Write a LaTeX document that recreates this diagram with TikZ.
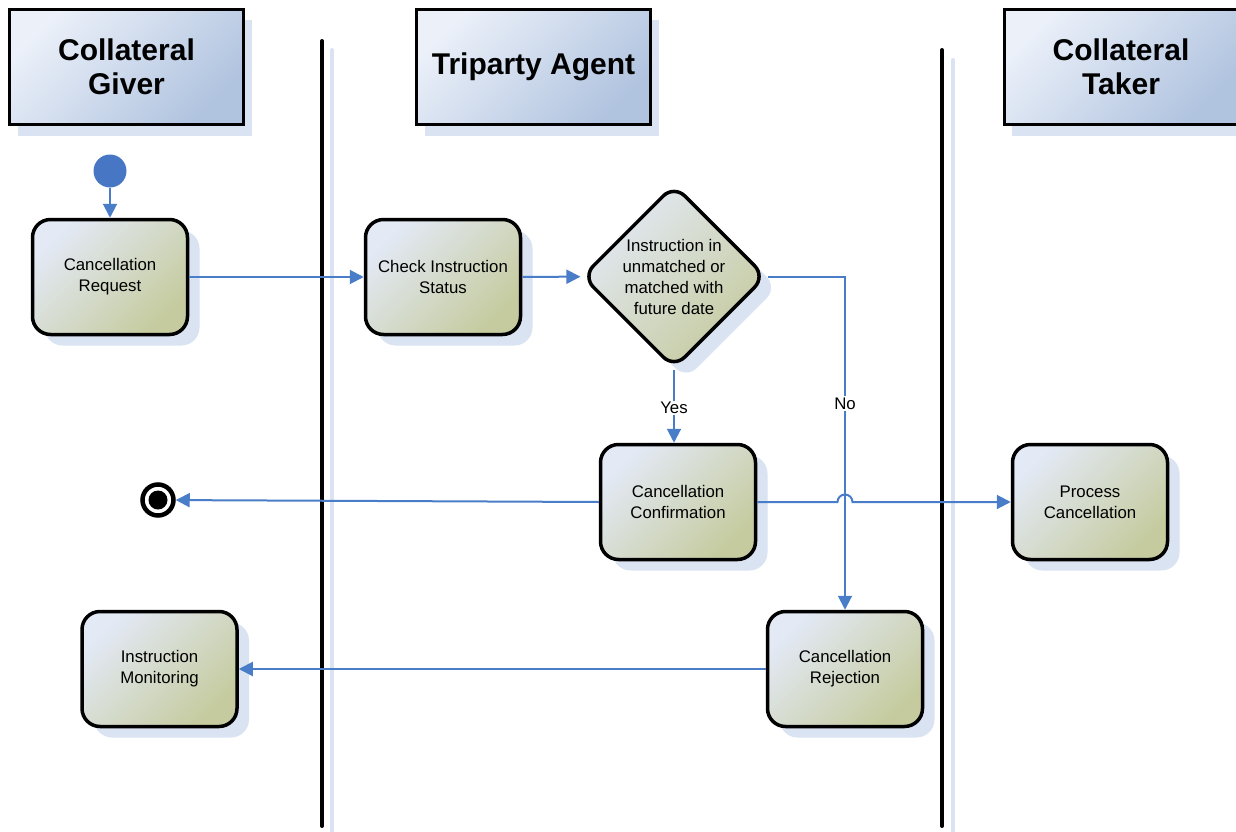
\documentclass[tikz,border=0pt]{standalone}
\usepackage{fontspec}
\setmainfont{Liberation Sans}
\usetikzlibrary{arrows.meta,shapes.geometric,shadows}

\definecolor{lineblue}{HTML}{4A7DC7}
\definecolor{startblue}{HTML}{4676C4}
\definecolor{shadowblue}{HTML}{DAE3F1}
\definecolor{nodetl}{HTML}{E3E9F5}
\definecolor{nodebr}{HTML}{C5CB9E}
\definecolor{headtl}{HTML}{EBF0F9}
\definecolor{headbr}{HTML}{B0C3DF}

\begin{document}
\begin{tikzpicture}[x=1pt,y=-1pt,
  header/.style={draw=black, line width=3pt, top color=headtl, bottom color=headbr,
    shading angle=45, minimum width=234pt, minimum height=115pt, inner sep=0pt,
    align=center, font=\fontsize{30}{34}\selectfont\bfseries,
    drop shadow={shadow xshift=8pt, shadow yshift=-11pt, fill=shadowblue, opacity=1}},
  act/.style={draw=black, line width=3.5pt, rounded corners=18pt, top color=nodetl,
    bottom color=nodebr, shading angle=45, minimum width=155pt, minimum height=115pt,
    inner sep=0pt, align=center, font=\fontsize{16.8}{21}\selectfont,
    drop shadow={shadow xshift=12pt, shadow yshift=-11pt, fill=shadowblue, opacity=1}},
  decision/.style={diamond, aspect=1, draw=black, line width=3.5pt, rounded corners=15pt,
    top color=nodetl, bottom color=nodebr, shading angle=45, minimum width=184pt,
    minimum height=184pt, inner sep=0pt,
    drop shadow={shadow xshift=12pt, shadow yshift=-11pt, fill=shadowblue, opacity=1}},
  dtext/.style={align=center, font=\fontsize{16.8}{21}\selectfont, inner sep=0pt},
  conn/.style={draw=lineblue, line width=2pt, -{Triangle[length=14pt,width=14pt]}},
  lbl/.style={fill=white, inner sep=1.5pt, font=\fontsize{16.8}{20}\selectfont},
  lane/.style={line width=4pt, line cap=round},
  laneshadow/.style={line width=4pt, line cap=round, draw=shadowblue}
]
\useasboundingbox (0,0) rectangle (1236,832);

% swimlane separators
\draw[laneshadow] (332,50) -- (332,834);
\draw[lane] (322,41) -- (322,826);
\draw[laneshadow] (953,60) -- (953,834);
\draw[lane] (942,50) -- (942,826);

% headers
\node[header] (hg) at (126.5,67) {Collateral\\Giver};
\node[header] (ht) at (533.5,67) {Triparty Agent};
\node[header] (hk) at (1121,67) {Collateral\\Taker};

% start / end
\node[circle, fill=startblue, minimum size=33pt, inner sep=0pt] (start) at (110,171) {};
\node[circle, draw=black, line width=4.5pt, fill=white, minimum size=31pt, inner sep=0pt] (fin) at (158,500) {};
\node[circle, fill=black, minimum size=19pt, inner sep=0pt] (fincore) at (fin) {};

% activities
\node[act] (cr) at (110,277) {Cancellation\\Request};
\node[act] (cis) at (443,277) {Check Instruction\\Status};
\node[decision] (dec) at (674,276.5) {};
\node[dtext] (dectext) at (dec) {Instruction in\\unmatched or\\matched with\\future date};
\node[act] (cc) at (678,502) {Cancellation\\Confirmation};
\node[act] (pc) at (1090,502) {Process\\Cancellation};
\node[act] (crj) at (845,669) {Cancellation\\Rejection};
\node[act] (im) at (159.5,669) {Instruction\\Monitoring};

% connectors
\draw[conn] (start) -- (cr);
\draw[conn] (cr) -- (cis);
\draw[conn] (cis) -- (dec);
\draw[conn] (dec.south) -- node[lbl, pos=0.52] {Yes} (dec.south |- cc.north);
\coordinate (nocorner) at (crj.north |- dec.east);
\draw[conn] (dec.east) -- (nocorner) -- node[lbl, pos=0.382] {No} (crj.north);
\draw[conn] (cc.west) -- (fin);
\coordinate (jumpstart) at (837.5,502);
\draw[conn] (cc.east) -- (jumpstart) arc[start angle=180, end angle=360, radius=7.5] -- (pc.west);
\draw[conn] (crj.west) -- (im.east);
\end{tikzpicture}
\end{document}
